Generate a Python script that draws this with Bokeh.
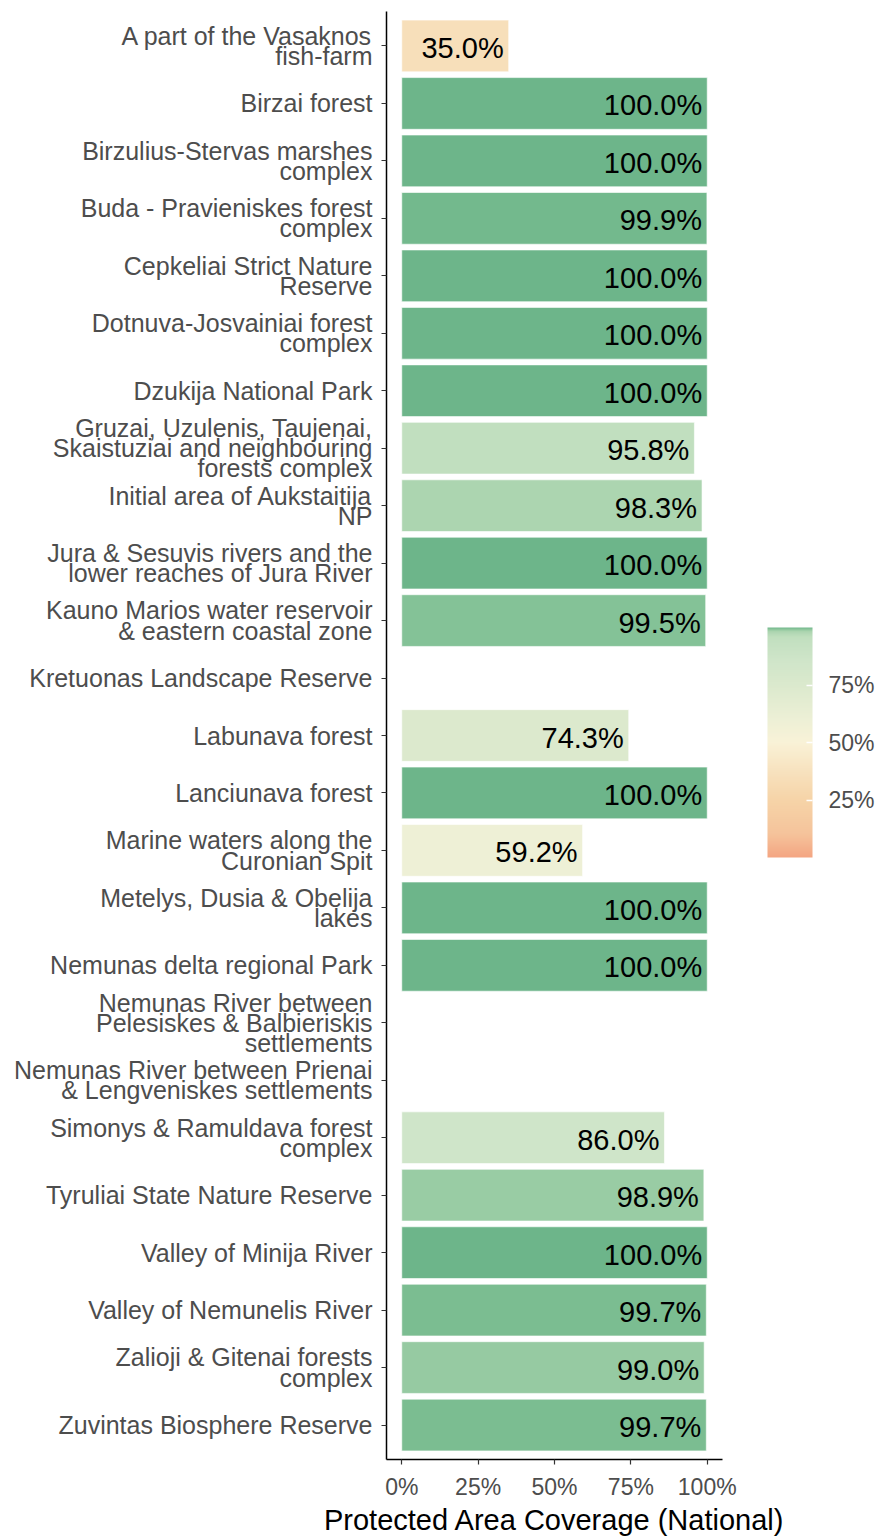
import pandas as pd
from bokeh.plotting import figure
from bokeh.models import (FactorRange, Range1d, FixedTicker, PrintfTickFormatter,
                          LinearColorMapper, ColorBar, ColumnDataSource, Title)
from bokeh.transform import transform
from bokeh.core.properties import value
from bokeh.embed import file_html
from bokeh.resources import INLINE

# ---- data (top to bottom as in the chart) ----
sites = [
    "A part of the Vasaknos\nfish-farm",
    "Birzai forest",
    "Birzulius-Stervas marshes\ncomplex",
    "Buda - Pravieniskes forest\ncomplex",
    "Cepkeliai Strict Nature\nReserve",
    "Dotnuva-Josvainiai forest\ncomplex",
    "Dzukija National Park",
    "Gruzai, Uzulenis, Taujenai,\nSkaistuziai and neighbouring\nforests complex",
    "Initial area of Aukstaitija\nNP",
    "Jura & Sesuvis rivers and the\nlower reaches of Jura River",
    "Kauno Marios water reservoir\n& eastern coastal zone",
    "Kretuonas Landscape Reserve",
    "Labunava forest",
    "Lanciunava forest",
    "Marine waters along the\nCuronian Spit",
    "Metelys, Dusia & Obelija\nlakes",
    "Nemunas delta regional Park",
    "Nemunas River between\nPelesiskes & Balbieriskis\nsettlements",
    "Nemunas River between Prienai\n& Lengveniskes settlements",
    "Simonys & Ramuldava forest\ncomplex",
    "Tyruliai State Nature Reserve",
    "Valley of Minija River",
    "Valley of Nemunelis River",
    "Zalioji & Gitenai forests\ncomplex",
    "Zuvintas Biosphere Reserve",
]
coverage = [35.0, 100.0, 100.0, 99.9, 100.0, 100.0, 100.0, 95.8, 98.3, 100.0,
            99.5, None, 74.3, 100.0, 59.2, 100.0, 100.0, None, None, 86.0,
            98.9, 100.0, 99.7, 99.0, 99.7]
x_ticks = [0, 25, 50, 75, 100]
legend_ticks = [25, 50, 75]
x_title = "Protected Area Coverage (National)"

# ---- colour scale (style): gradient stops, steep near 100% ----
stops = [(0, "#f4a582"), (10, "#f5c39b"), (25, "#f6d4a8"), (35, "#f7dfba"),
         (50, "#f9f2d7"), (60, "#edf0d6"), (75, "#dbe9cd"), (86, "#cfe5c9"),
         (95.8, "#c1dfbf"), (98.3, "#acd5b0"), (99.0, "#96caa2"),
         (99.5, "#84c297"), (99.7, "#7bbd91"), (99.9, "#73b98d"), (100, "#6db58a")]


def _rgb(h):
    return tuple(int(h[i:i + 2], 16) for i in (1, 3, 5))


palette = []
n = 1001
for k in range(n):
    v = 100.0 * k / (n - 1)
    for (p0, c0), (p1, c1) in zip(stops[:-1], stops[1:]):
        if p0 <= v <= p1:
            t = 0 if p1 == p0 else (v - p0) / (p1 - p0)
            a, b = _rgb(c0), _rgb(c1)
            palette.append("#%02x%02x%02x" % tuple(round(a[i] + (b[i] - a[i]) * t) for i in range(3)))
            break

mapper = LinearColorMapper(palette=palette, low=0, high=100)

df = pd.DataFrame({"site": sites, "coverage": coverage}).dropna()
df["label"] = df["coverage"].map(lambda v: f"{v:.1f}%")
src = ColumnDataSource(df)

FONT = "Liberation Sans"

p = figure(width=879, height=1536, output_backend="svg", toolbar_location=None,
           y_range=FactorRange(factors=list(reversed(sites)), range_padding=0.1,
                               range_padding_units="absolute"),
           x_range=Range1d(-5, 105),
           min_border_left=386, min_border_right=157, min_border_top=11,
           min_border_bottom=77)
p.outline_line_color = None
p.xgrid.grid_line_color = None
p.ygrid.grid_line_color = None

p.hbar(y="site", left=0, right="coverage", height=0.9, source=src,
       fill_color=transform("coverage", mapper), line_color="white",
       line_alpha=0.6, line_width=1)
p.text(x="coverage", y="site", text="label", source=src, text_align="right",
       text_baseline="middle", x_offset=-5, y_offset=2, text_font=value(FONT),
       text_font_size="29px", text_color="black")

# axes
for ax in (p.xaxis[0], p.yaxis[0]):
    ax.axis_line_color = "black"
    ax.axis_line_width = 1.5
    ax.major_tick_line_color = "#333333"
    ax.major_tick_line_width = 1.2
    ax.major_tick_out = 5
    ax.major_tick_in = 0
    ax.minor_tick_line_color = None
    ax.major_label_text_font = FONT
    ax.major_label_text_color = "#4d4d4d"

p.yaxis.major_label_text_font_size = "25px"
p.yaxis.major_label_text_line_height = 0.72
p.yaxis.major_label_standoff = 9

p.xaxis.ticker = FixedTicker(ticks=x_ticks)
p.xaxis.formatter = PrintfTickFormatter(format="%d%%")
p.xaxis.major_label_text_font_size = "23px"
p.xaxis.major_label_standoff = 9

# x-axis title as a title panel below the axis
p.add_layout(Title(text=x_title, align="center", text_font=FONT,
                   text_font_size="29px", text_font_style="normal",
                   text_color="black", standoff=-2, offset=0), "below")

cb = ColorBar(color_mapper=mapper, width=45, height=230, location=(45, 602),
              ticker=FixedTicker(ticks=legend_ticks),
              formatter=PrintfTickFormatter(format="%d%%"),
              major_label_text_font=FONT, major_label_text_font_size="23px",
              major_label_text_color="#4d4d4d", label_standoff=16,
              major_tick_line_color="white", major_tick_line_width=1.5,
              major_tick_in=6, major_tick_out=0, bar_line_color=None,
              border_line_color=None, background_fill_color=None,
              padding=0, margin=0)
p.add_layout(cb, "right")

open("out.html", "w").write(file_html(p, INLINE))
